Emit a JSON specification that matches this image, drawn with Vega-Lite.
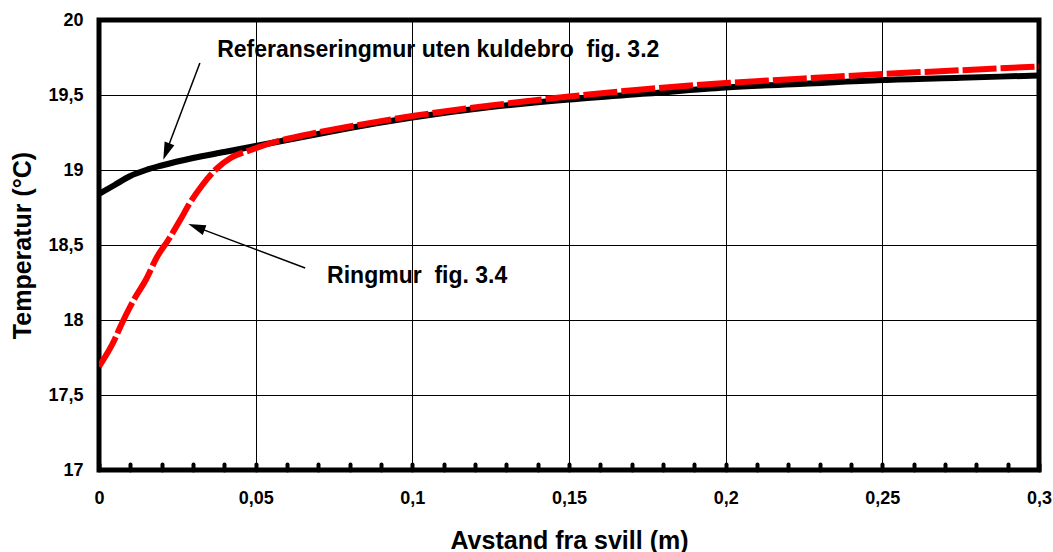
{
  "$schema": "https://vega.github.io/schema/vega-lite/v6.json",
  "autosize": "none",
  "width": 940,
  "height": 450,
  "padding": {"left": 99, "top": 20, "right": 14, "bottom": 82},
  "background": "white",
  "config": {
    "font": "Liberation Sans",
    "view": {"stroke": "black", "strokeWidth": 5},
    "axis": {"domain": false, "gridColor": "black", "gridWidth": 1, "gridOpacity": 1, "labelFont": "Liberation Sans", "labelFontWeight": "bold", "labelColor": "black", "titleFont": "Liberation Sans", "titleFontWeight": "bold", "titleColor": "black"}
  },
  "datasets": {
    "ref": [
      {"x": 0, "t": 18.84}, {"x": 0.005, "t": 18.9}, {"x": 0.01, "t": 18.96}, {"x": 0.015, "t": 19.0},
      {"x": 0.02, "t": 19.03}, {"x": 0.03, "t": 19.08}, {"x": 0.04, "t": 19.12}, {"x": 0.05, "t": 19.16},
      {"x": 0.06, "t": 19.2}, {"x": 0.07, "t": 19.24}, {"x": 0.08, "t": 19.28}, {"x": 0.1, "t": 19.35},
      {"x": 0.125, "t": 19.42}, {"x": 0.15, "t": 19.47}, {"x": 0.175, "t": 19.51}, {"x": 0.2, "t": 19.55},
      {"x": 0.225, "t": 19.575}, {"x": 0.25, "t": 19.6}, {"x": 0.275, "t": 19.615}, {"x": 0.3, "t": 19.63}
    ],
    "ring": [
      {"x": 0, "t": 17.69}, {"x": 0.005, "t": 17.87}, {"x": 0.0067, "t": 17.95}, {"x": 0.011, "t": 18.13},
      {"x": 0.015, "t": 18.27}, {"x": 0.0185, "t": 18.42}, {"x": 0.022, "t": 18.53}, {"x": 0.026, "t": 18.67},
      {"x": 0.029, "t": 18.78}, {"x": 0.033, "t": 18.9}, {"x": 0.0376, "t": 19.01}, {"x": 0.042, "t": 19.08},
      {"x": 0.048, "t": 19.13}, {"x": 0.055, "t": 19.18}, {"x": 0.065, "t": 19.23}, {"x": 0.08, "t": 19.29},
      {"x": 0.1, "t": 19.36}, {"x": 0.125, "t": 19.43}, {"x": 0.15, "t": 19.49}, {"x": 0.175, "t": 19.54},
      {"x": 0.2, "t": 19.58}, {"x": 0.225, "t": 19.61}, {"x": 0.25, "t": 19.64}, {"x": 0.275, "t": 19.665},
      {"x": 0.3, "t": 19.69}
    ],
    "arrows": [
      {"x1": 0.0322, "y1": 19.713, "x2": 0.0215, "y2": 19.123, "ang": 201},
      {"x1": 0.0658, "y1": 18.347, "x2": 0.0311, "y2": 18.619, "ang": 290.6}
    ],
    "labels": [
      {"x": 0.0377, "t": 19.8, "label": "Referanseringmur uten kuldebro \u00a0fig. 3.2"},
      {"x": 0.0728, "t": 18.293, "label": "Ringmur \u00a0fig. 3.4"}
    ]
  },
  "layer": [
    {
      "data": {"name": "ref"},
      "mark": {"type": "line", "color": "black", "strokeWidth": 6, "interpolate": "monotone", "clip": true},
      "encoding": {
        "x": {
          "field": "x", "type": "quantitative",
          "scale": {"domain": [0, 0.3], "nice": false, "zero": false},
          "axis": {
            "values": [0,0.01,0.02,0.03,0.04,0.05,0.06,0.07,0.08,0.09,0.1,0.11,0.12,0.13,0.14,0.15,0.16,0.17,0.18,0.19,0.2,0.21,0.22,0.23,0.24,0.25,0.26,0.27,0.28,0.29,0.3],
            "tickCount": 100,
            "labelExpr": "round(datum.value*100) % 5 == 0 ? replace(format(datum.value, '~g'), '.', ',') : ''",
            "gridOpacity": {"condition": {"test": "round(datum.value*100) % 5 == 0 && datum.value > 0 && datum.value < 0.3", "value": 1}, "value": 0},
            "ticks": true, "tickSize": -6, "tickWidth": 4, "tickCap": "round", "tickColor": "black",
            "labelFontSize": 18, "labelPadding": 25, "labelOverlap": false, "labelFlush": false,
            "title": "Avstand fra svill (m)", "titleFontSize": 25, "titlePadding": 21
          }
        },
        "y": {
          "field": "t", "type": "quantitative",
          "scale": {"domain": [17, 20], "nice": false, "zero": false},
          "axis": {
            "values": [17, 17.5, 18, 18.5, 19, 19.5, 20],
            "tickCount": 10,
            "labelExpr": "replace(format(datum.value, '~g'), '.', ',')",
            "ticks": false, "labelFontSize": 18, "labelPadding": 16,
            "title": "Temperatur (°C)", "titleFontSize": 25, "titlePadding": 12
          }
        }
      }
    },
    {
      "data": {"name": "ring"},
      "mark": {"type": "line", "color": "#ff0000", "strokeWidth": 6, "strokeDash": [34, 4], "interpolate": "monotone", "clip": true},
      "encoding": {
        "x": {"field": "x", "type": "quantitative"},
        "y": {"field": "t", "type": "quantitative"}
      }
    },
    {
      "data": {"name": "arrows"},
      "mark": {"type": "rule", "color": "black", "strokeWidth": 1.5},
      "encoding": {
        "x": {"field": "x1", "type": "quantitative"},
        "y": {"field": "y1", "type": "quantitative"},
        "x2": {"field": "x2"},
        "y2": {"field": "y2"}
      }
    },
    {
      "data": {"name": "arrows"},
      "mark": {"type": "point", "shape": "M0,-1L0.6,1L-0.6,1Z", "filled": true, "color": "black", "opacity": 1, "size": 300},
      "encoding": {
        "x": {"field": "x2", "type": "quantitative"},
        "y": {"field": "y2", "type": "quantitative"},
        "angle": {"field": "ang", "type": "quantitative", "scale": null}
      }
    },
    {
      "data": {"name": "labels"},
      "mark": {"type": "text", "align": "left", "baseline": "middle", "fontSize": 23, "fontWeight": "bold", "color": "black", "font": "Liberation Sans"},
      "encoding": {
        "x": {"field": "x", "type": "quantitative"},
        "y": {"field": "t", "type": "quantitative"},
        "text": {"field": "label"}
      }
    }
  ]
}
